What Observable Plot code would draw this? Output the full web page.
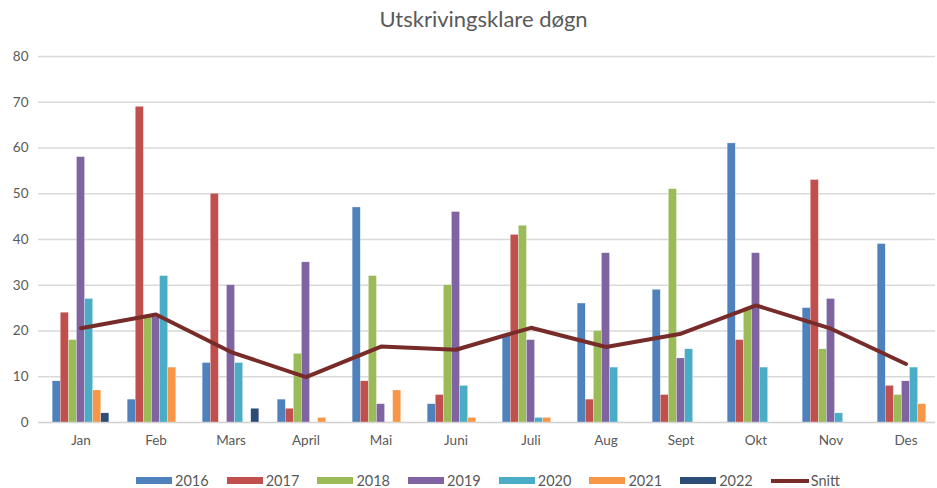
<!DOCTYPE html>
<html>
<head>
<meta charset="utf-8">
<script src="https://cdn.jsdelivr.net/npm/d3@7"></script>
<script src="https://cdn.jsdelivr.net/npm/@observablehq/plot@0.6"></script>
<style>
  html, body { margin: 0; padding: 0; background: #fff; }
  body { width: 937px; height: 488px; overflow: hidden; font-family: Lato, "Open Sans", sans-serif; }
  #title { height: 40px; line-height: 38px; text-align: center; font-size: 22px; color: #595959; padding-left: 30px; box-sizing: border-box;}
  #legend { display: flex; justify-content: flex-start; padding-left: 136px; margin-top: 17px; font-size: 14.5px; color: #595959; }
  .item { display: flex; align-items: center; width: 90.7px; }
  .sw { width: 36px; height: 7px; margin-right: 3px; }
  .ln { width: 38px; height: 4px; margin-right: 2px; }
</style>
</head>
<body>
<div id="title">Utskrivingsklare døgn</div>
<div id="chart"></div>
<div id="legend"></div>
<script>
const months = ["Jan","Feb","Mars","April","Mai","Juni","Juli","Aug","Sept","Okt","Nov","Des"];
const years = ["2016","2017","2018","2019","2020","2021","2022"];
const colors = ["#4f81bd","#c0504d","#9bbb59","#8064a2","#4bacc6","#f79646","#2c4d75"];
const v2016 = [9, 5, 13, 5, 47, 4, 19, 26, 29, 61, 25, 39];
const v2017 = [24, 69, 50, 3, 9, 6, 41, 5, 6, 18, 53, 8];
const v2018 = [18, 23, null, 15, 32, 30, 43, 20, 51, 25, 16, 6];
const v2019 = [58, 23, 30, 35, 4, 46, 18, 37, 14, 37, 27, 9];
const v2020 = [27, 32, 13, null, null, 8, 1, 12, 16, 12, 2, 12];
const v2021 = [7, 12, null, 1, 7, 1, 1, null, null, null, null, 4];
const v2022 = [2, null, 3, null, null, null, null, null, null, null, null, null];
const snitt = [20.6, 23.6, 15.4, 9.9, 16.6, 15.9, 20.7, 16.5, 19.4, 25.6, 20.5, 12.8];

const series = [v2016, v2017, v2018, v2019, v2020, v2021, v2022];
const band = 75;
const barW = 8.1;
const start = (band - barW * years.length) / 2;

const marks = [
  Plot.gridY({ticks: d3.range(10, 81, 10), stroke: "#d9d9d9", strokeOpacity: 1, strokeWidth: 1.3}),
  Plot.ruleY([0], {stroke: "#d0d0d0", strokeWidth: 1.3})
];
series.forEach((vals, i) => {
  const rows = months.map((m, j) => ({month: m, value: vals[j]})).filter(d => d.value != null);
  marks.push(Plot.barY(rows, {
    x: "month", y: "value", fill: colors[i],
    stroke: "white", strokeWidth: 0.4, strokeOpacity: 0.7,
    insetLeft: start + i * barW,
    insetRight: band - start - (i + 1) * barW
  }));
});
marks.push(Plot.line(months.map((m, j) => ({month: m, value: snitt[j]})), {
  x: "month", y: "value", stroke: "#772c2a", strokeWidth: 4, strokeLinejoin: "round", strokeLinecap: "round"
}));

const chart = Plot.plot({
  width: 937,
  height: 415,
  marginTop: 16,
  marginBottom: 33,
  marginLeft: 38,
  marginRight: 2,
  style: {fontFamily: "Lato, sans-serif", fontSize: "13.5px", color: "#595959", background: "white"},
  x: {domain: months, range: [42.5, 942.5], padding: 0, label: null, tickSize: 0, tickPadding: 13},
  y: {domain: [0, 80], ticks: d3.range(0, 81, 10), label: null, tickSize: 0, tickPadding: 10},
  marks
});
document.getElementById("chart").appendChild(chart);

const legend = document.getElementById("legend");
years.forEach((y, i) => {
  const it = document.createElement("div");
  it.className = "item";
  it.innerHTML = `<span class="sw" style="background:${colors[i]}"></span><span>${y}</span>`;
  legend.appendChild(it);
});
const it = document.createElement("div");
it.className = "item";
it.innerHTML = `<span class="ln" style="background:#772c2a"></span><span>Snitt</span>`;
legend.appendChild(it);
</script>
</body>
</html>
